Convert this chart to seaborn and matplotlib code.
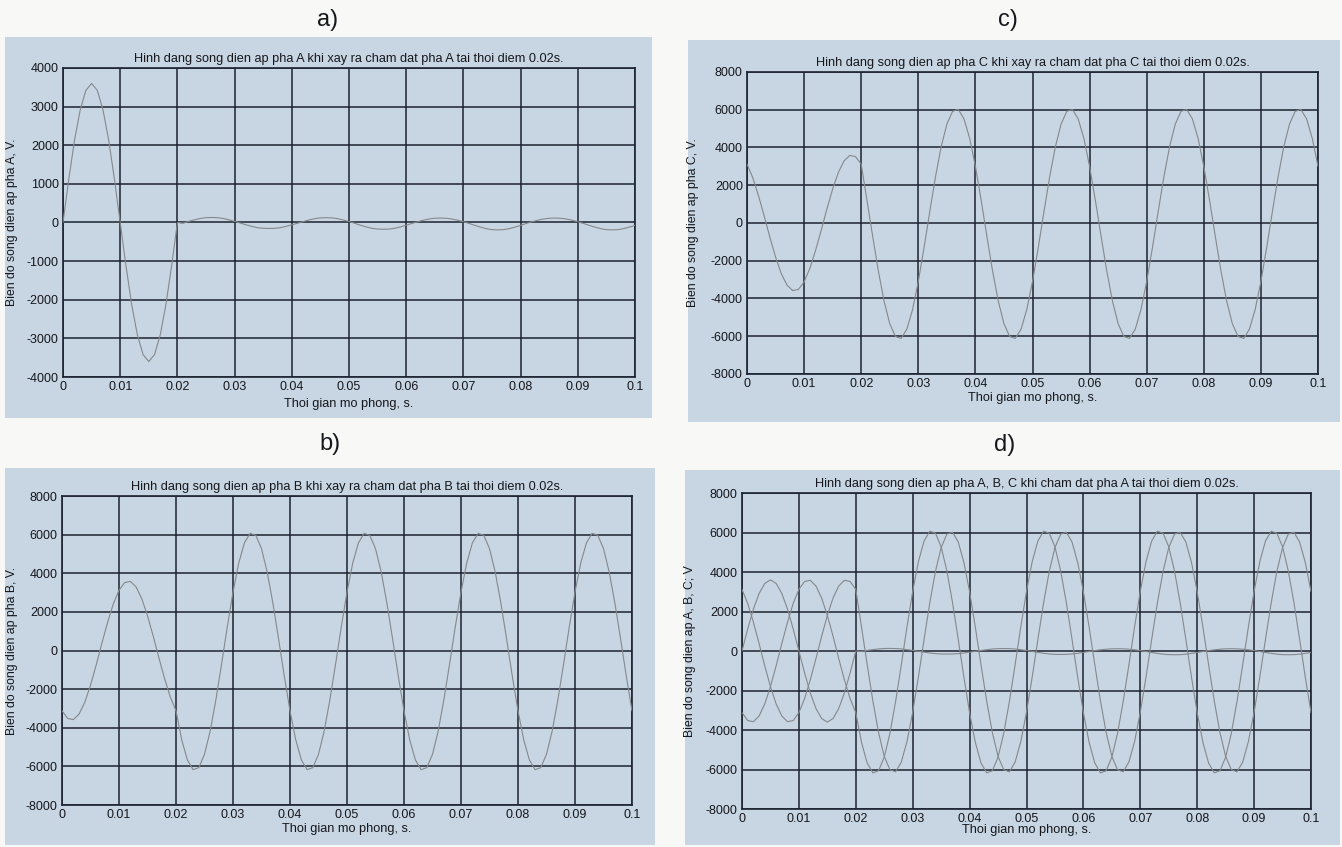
import numpy as np
import pandas as pd
import matplotlib
matplotlib.use("Agg")
import matplotlib.pyplot as plt
from matplotlib.patches import Rectangle
import seaborn as sns

# Sampling instants, in milliseconds (0 ... 100 ms)
t_ms = list(range(0, 101))

# Phase A voltage, V (earth fault on A at 0.02 s)
phase_a = [
    0, 1110, 2120, 2910, 3420, 3600, 3420, 2910, 2120, 1110,
    0, -1110, -2120, -2910, -3420, -3600, -3420, -2910, -2120, -1110,
    0,
    -20, 30, 70, 105, 125, 130, 125, 105, 70, 30,
    -15, -60, -100, -135, -150, -155, -150, -135, -100, -60,
    -20, 25, 65, 100, 120, 125, 120, 100, 65, 25,
    -20, -70, -115, -150, -170, -175, -170, -150, -115, -70,
    -25, 20, 60, 90, 110, 115, 110, 90, 60, 20,
    -25, -75, -120, -160, -185, -190, -185, -160, -120, -75,
    -25, 20, 60, 90, 110, 115, 110, 90, 60, 20,
    -25, -75, -120, -160, -185, -190, -185, -160, -120, -75,
]

# Phase B voltage, V
phase_b = [
    -3120, -3520, -3580, -3290, -2680, -1800, -750, 380, 1460, 2410,
    3120, 3520, 3580, 3290, 2680, 1800, 750, -380, -1460, -2410,
    -3120,
    -4620, -5670, -6170, -6065, -5375, -4165, -2550, -695, 1230, 3025,
    4520, 5570, 6065, 5965, 5275, 4065, 2450, 595, -1330, -3125,
    -4620, -5670, -6170, -6065, -5375, -4165, -2550, -695, 1230, 3025,
    4520, 5570, 6065, 5965, 5275, 4065, 2450, 595, -1330, -3125,
    -4620, -5670, -6170, -6065, -5375, -4165, -2550, -695, 1230, 3025,
    4520, 5570, 6065, 5965, 5275, 4065, 2450, 595, -1330, -3125,
    -4620, -5670, -6170, -6065, -5375, -4165, -2550, -695, 1230, 3025,
    4520, 5570, 6065, 5965, 5275, 4065, 2450, 595, -1330, -3125,
]

# Phase C voltage, V
phase_c = [
    3120, 2410, 1460, 380, -750, -1800, -2680, -3290, -3580, -3520,
    -3120, -2410, -1460, -380, 750, 1800, 2680, 3290, 3580, 3520,
    3120,
    1220, -685, -2530, -4130, -5335, -6015, -6115, -5620, -4580, -3100,
    -1320, 585, 2430, 4030, 5235, 5915, 6015, 5520, 4480, 3000,
    1220, -685, -2530, -4130, -5335, -6015, -6115, -5620, -4580, -3100,
    -1320, 585, 2430, 4030, 5235, 5915, 6015, 5520, 4480, 3000,
    1220, -685, -2530, -4130, -5335, -6015, -6115, -5620, -4580, -3100,
    -1320, 585, 2430, 4030, 5235, 5915, 6015, 5520, 4480, 3000,
    1220, -685, -2530, -4130, -5335, -6015, -6115, -5620, -4580, -3100,
    -1320, 585, 2430, 4030, 5235, 5915, 6015, 5520, 4480, 3000,
]

x_ticks = [0, 0.01, 0.02, 0.03, 0.04, 0.05, 0.06, 0.07, 0.08, 0.09, 0.1]
x_tick_labels = ["0", "0.01", "0.02", "0.03", "0.04", "0.05", "0.06",
                 "0.07", "0.08", "0.09", "0.1"]
y_ticks_a = [-4000, -3000, -2000, -1000, 0, 1000, 2000, 3000, 4000]
y_ticks_bcd = [-8000, -6000, -4000, -2000, 0, 2000, 4000, 6000, 8000]

titles = {
    "a": "Hinh dang song dien ap pha A khi xay ra cham dat pha A tai thoi diem 0.02s.",
    "b": "Hinh dang song dien ap pha B khi xay ra cham dat pha B tai thoi diem 0.02s.",
    "c": "Hinh dang song dien ap pha C khi xay ra cham dat pha C tai thoi diem 0.02s.",
    "d": "Hinh dang song dien ap pha A, B, C khi cham dat pha A tai thoi diem 0.02s.",
}
y_labels = {
    "a": "Bien do song dien ap pha A, V.",
    "b": "Bien do song dien ap pha B, V.",
    "c": "Bien do song dien ap pha C, V.",
    "d": "Bien do song dien ap A, B, C; V",
}
x_label = "Thoi gian mo phong, s."

t = np.array(t_ms) / 1000.0
df = pd.DataFrame({"t": t, "A": phase_a, "B": phase_b, "C": phase_c})

sns.set_style("white")
plt.rcParams["font.family"] = ["Liberation Sans", "DejaVu Sans"]

PAGE = "#f8f8f6"
PANEL = "#c8d6e3"
GRID = "#1c2231"
CURVE = "#85888c"
TEXT = "#15171c"

fig = plt.figure(figsize=(13.42, 8.47), dpi=100, facecolor=PAGE)
W, H = 1342.0, 847.0


def px_rect(x0, y0, x1, y1):
    return [x0 / W, 1 - y1 / H, (x1 - x0) / W, (y1 - y0) / H]


# Shaded backgrounds behind each panel
panels_bg = {
    "a": (5, 37, 652, 418),
    "c": (688, 40, 1340, 422),
    "b": (5, 468, 655, 845),
    "d": (685, 470, 1340, 845),
}
for key, (x0, y0, x1, y1) in panels_bg.items():
    r = px_rect(x0, y0, x1, y1)
    fig.patches.append(Rectangle((r[0], r[1]), r[2], r[3], transform=fig.transFigure,
                                 facecolor=PANEL, edgecolor="none", zorder=-10))

axes_px = {
    "a": (63, 68, 635, 377),
    "c": (747, 72, 1318, 374),
    "b": (62, 496, 632, 805),
    "d": (742, 493, 1311, 809),
}
xlabel_y = {"a": -0.067, "c": -0.058, "b": -0.057, "d": -0.049}
ylabel_x = {"a": -0.079, "c": -0.084, "b": -0.077, "d": -0.081}
series = {"a": ["A"], "b": ["B"], "c": ["C"], "d": ["A", "B", "C"]}

for key, (x0, y0, x1, y1) in axes_px.items():
    ax = fig.add_axes(px_rect(x0, y0, x1, y1))
    ax.set_zorder(1)
    ax.set_facecolor(PANEL)
    for col in series[key]:
        sns.lineplot(data=df, x="t", y=col, ax=ax, color=CURVE, linewidth=0.8,
                     estimator=None, sort=False, zorder=3)
    yt = y_ticks_a if key == "a" else y_ticks_bcd
    ax.set_xlim(0, 0.1)
    ax.set_ylim(yt[0], yt[-1])
    ax.set_xticks(x_ticks)
    ax.set_xticklabels(x_tick_labels)
    ax.set_yticks(yt)
    ax.set_yticklabels([str(v) for v in yt])
    ax.grid(True, color=GRID, linewidth=1.1, zorder=1)
    ax.set_axisbelow(True)
    for s in ax.spines.values():
        s.set_visible(True)
        s.set_color(GRID)
        s.set_linewidth(1.2)
    ax.tick_params(axis="both", direction="in", length=3, width=0.8, color=GRID,
                   labelsize=9, labelcolor=TEXT, pad=3)
    ax.set_title(titles[key], fontsize=9.2, color=TEXT, pad=4.5)
    ax.set_xlabel(x_label, fontsize=9.2, color=TEXT)
    ax.set_ylabel(y_labels[key], fontsize=8.8, color=TEXT)
    ax.xaxis.set_label_coords(0.5, xlabel_y[key])
    ax.yaxis.set_label_coords(ylabel_x[key], 0.5)

# Panel letters
letters = {"a)": (328, 20), "c)": (1008, 20), "b)": (330, 444), "d)": (1005, 445)}
for txt, (px, py) in letters.items():
    fig.text(px / W, 1 - py / H, txt, fontsize=17, color=TEXT, ha="center", va="center")

fig.savefig("out.png", dpi=100, facecolor=PAGE)
